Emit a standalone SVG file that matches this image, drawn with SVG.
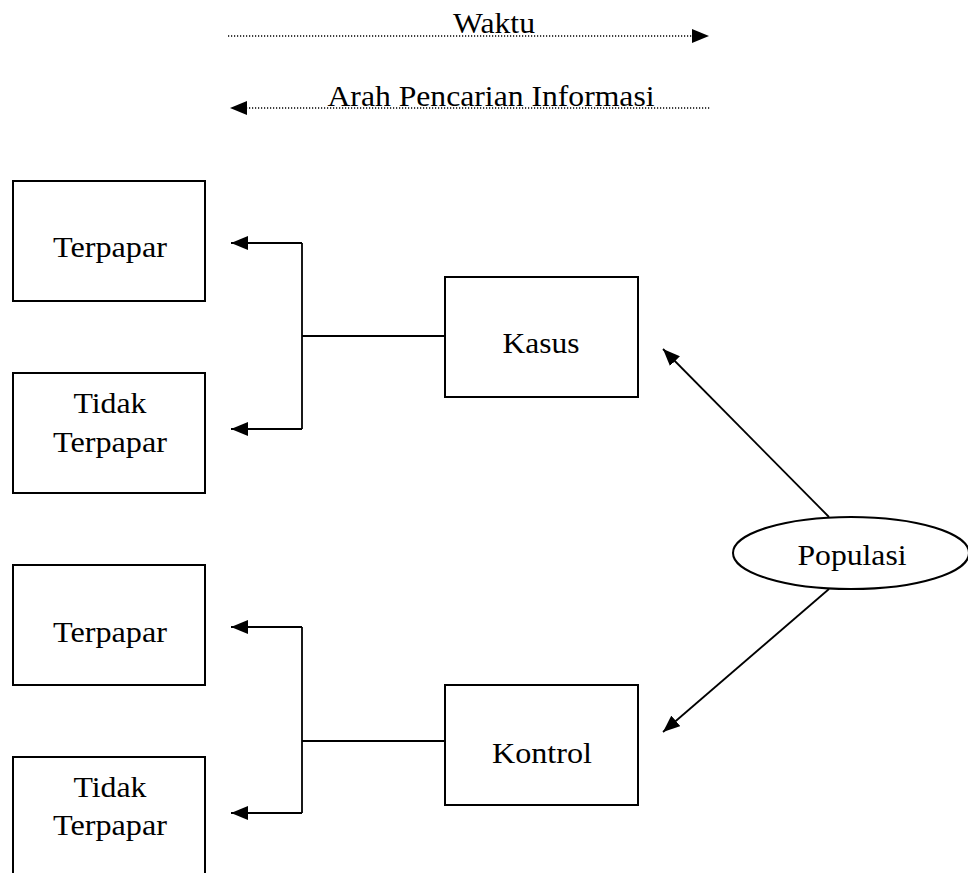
<svg xmlns="http://www.w3.org/2000/svg" width="968" height="873" viewBox="0 0 968 873">
<defs>
<style>
.box{fill:#fff;stroke:#000;stroke-width:2}
.t{font-family:"Liberation Serif","Times New Roman",serif;font-size:30px;fill:#000;text-anchor:middle}
.ln{fill:none;stroke:#000;stroke-width:1.8}
.dot{fill:none;stroke:#000;stroke-width:1.5;stroke-dasharray:1.2 1.8}
</style>
<marker id="ah" markerUnits="userSpaceOnUse" markerWidth="18" markerHeight="14" refX="17" refY="7" orient="auto">
<path d="M0,0 L17,7 L0,14 z" fill="#000"/>
</marker>
</defs>
<rect width="968" height="873" fill="#fff"/>
<g id="header">
<text class="t" x="494" y="33" textLength="82" lengthAdjust="spacingAndGlyphs">Waktu</text>
<text class="t" x="491" y="106" textLength="327" lengthAdjust="spacingAndGlyphs">Arah Pencarian Informasi</text>
</g>
<g id="connectors">
<line class="dot" x1="228" y1="36" x2="694" y2="36"/>
<path d="M692,29 L709,36 L692,43 z" fill="#000"/>
<line class="dot" x1="246" y1="108" x2="710" y2="108"/>
<path d="M247,101 L230,108 L247,115 z" fill="#000"/>
<path class="ln" d="M445,336 H302"/>
<path class="ln" d="M302,243 V429"/>
<path class="ln" d="M302,243 H231" marker-end="url(#ah)"/>
<path class="ln" d="M302,429 H231" marker-end="url(#ah)"/>
<path class="ln" d="M445,741 H302"/>
<path class="ln" d="M302,627 V813"/>
<path class="ln" d="M302,627 H231" marker-end="url(#ah)"/>
<path class="ln" d="M302,813 H231" marker-end="url(#ah)"/>
<path class="ln" d="M829,517 L663,349" marker-end="url(#ah)"/>
<path class="ln" d="M829,589 L663,732" marker-end="url(#ah)"/>
</g>
<g id="terpapar1">
<rect class="box" x="13" y="181" width="192" height="120"/>
<text class="t" x="110" y="257" textLength="114" lengthAdjust="spacingAndGlyphs">Terpapar</text>
</g>
<g id="tidak1">
<rect class="box" x="13" y="373" width="192" height="120"/>
<text class="t" x="110" y="413" textLength="73" lengthAdjust="spacingAndGlyphs">Tidak</text>
<text class="t" x="110" y="452" textLength="114" lengthAdjust="spacingAndGlyphs">Terpapar</text>
</g>
<g id="terpapar2">
<rect class="box" x="13" y="565" width="192" height="120"/>
<text class="t" x="110" y="642" textLength="114" lengthAdjust="spacingAndGlyphs">Terpapar</text>
</g>
<g id="tidak2">
<rect class="box" x="13" y="757" width="192" height="130"/>
<text class="t" x="110" y="797" textLength="73" lengthAdjust="spacingAndGlyphs">Tidak</text>
<text class="t" x="110" y="835" textLength="114" lengthAdjust="spacingAndGlyphs">Terpapar</text>
</g>
<g id="kasus">
<rect class="box" x="445" y="277" width="193" height="120"/>
<text class="t" x="541" y="353" textLength="77" lengthAdjust="spacingAndGlyphs">Kasus</text>
</g>
<g id="kontrol">
<rect class="box" x="445" y="685" width="193" height="120"/>
<text class="t" x="542" y="763" textLength="100" lengthAdjust="spacingAndGlyphs">Kontrol</text>
</g>
<g id="populasi">
<ellipse class="box" cx="851" cy="553" rx="118" ry="36"/>
<text class="t" x="852" y="565" textLength="109" lengthAdjust="spacingAndGlyphs">Populasi</text>
</g>
</svg>
